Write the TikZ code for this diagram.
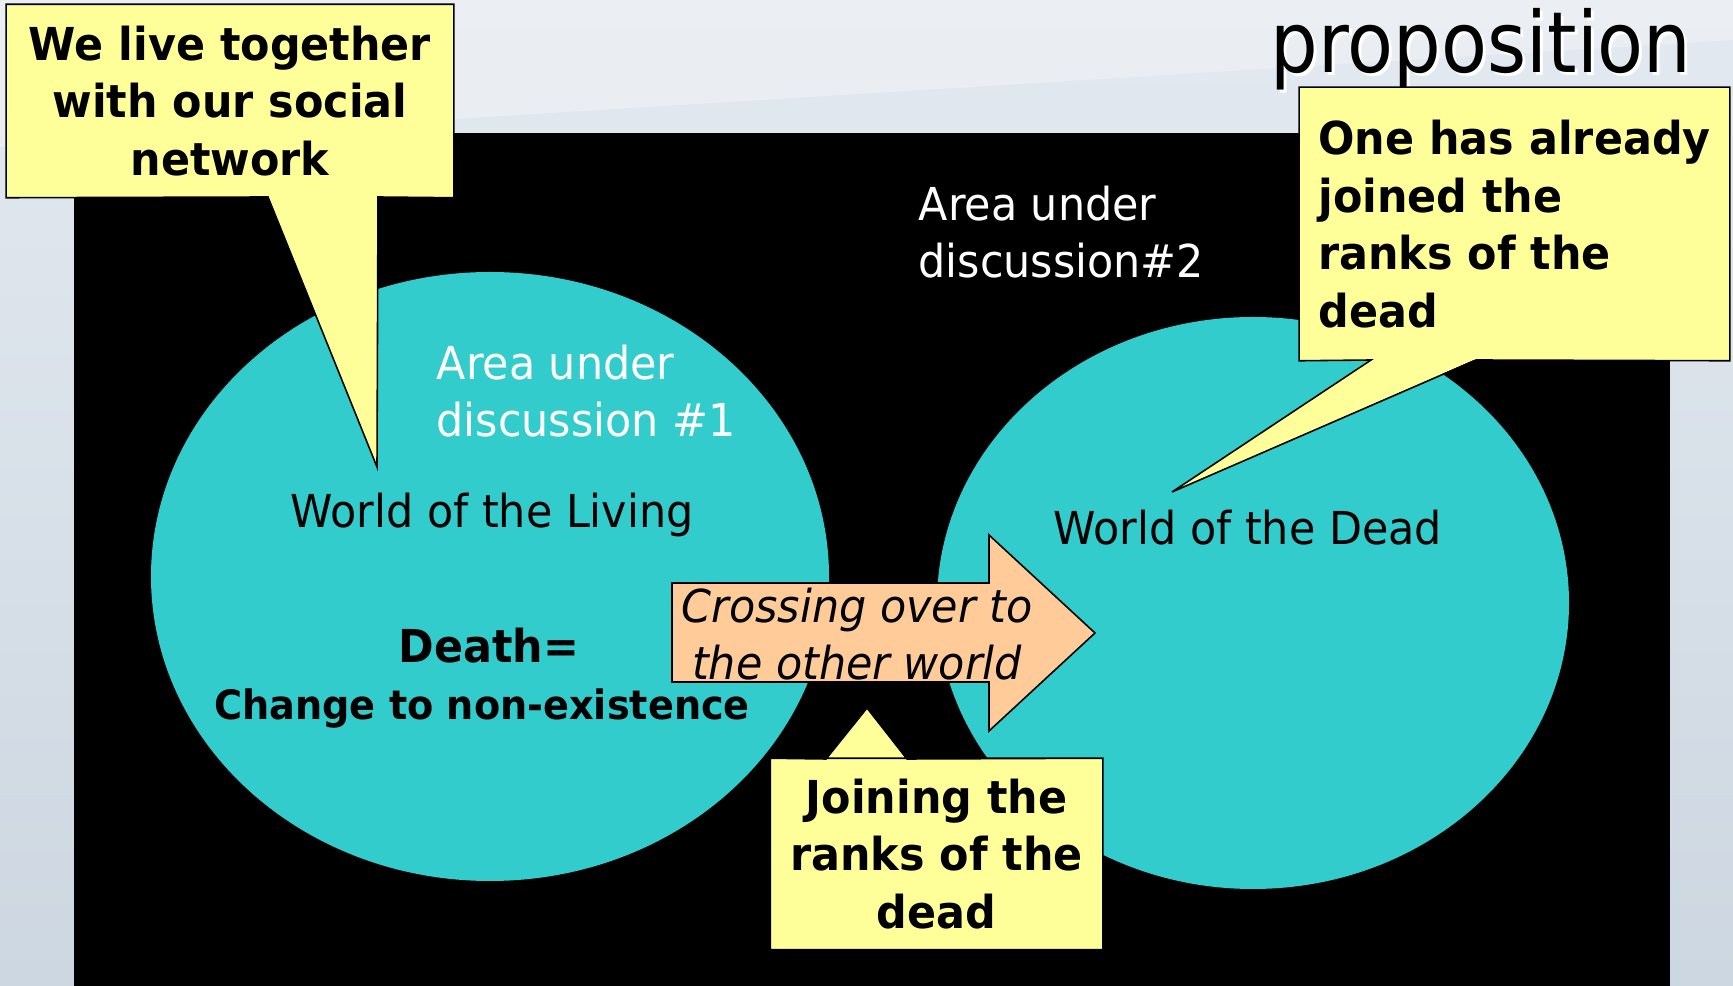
\documentclass[tikz,border=0pt]{standalone}
\usepackage{fontspec}
\newfontfamily\slidefont[FakeStretch=0.945]{DejaVu Sans}
\newfontfamily\titlefont[FakeStretch=0.89]{DejaVu Sans}
\definecolor{calloutyellow}{HTML}{FFFF99}
\definecolor{worldcyan}{HTML}{33CCCC}
\definecolor{arrowpeach}{HTML}{FFCC99}
\definecolor{slidetop}{HTML}{E3E9F0}
\definecolor{slidebottom}{HTML}{CDD7E1}

\begin{document}
\begin{tikzpicture}[x=0.01cm, y=-0.01cm,
  every node/.style={inner sep=0pt, font=\slidefont\fontsize{12.9}{16.4}\selectfont},
  world/.style={fill=worldcyan},
  callout/.style={fill=calloutyellow, font=\slidefont\bfseries\fontsize{12.9}{16.4}\selectfont},
  edge/.style={draw=black, line width=0.45pt, line join=miter}]
\useasboundingbox (0,0) rectangle (1733,986);
\shade[top color=slidetop, bottom color=slidebottom] (0,0) rectangle (1733,986);
\fill[white, opacity=0.3] (0,0) -- (1733,0) -- (1733,40) -- (0,147) -- cycle;
\fill[black] (74,133) rectangle (1670,986);
\fill[world] (490,576.5) ellipse [x radius=339, y radius=304.5];
\fill[world] (1253,603) ellipse [x radius=316, y radius=286];
\node[text=white, anchor=base west, align=left] (areaone) at (436,437) {Area under\\discussion \#1};
\node[anchor=base west] (living) at (290,528) {World of the Living};
\node[font=\slidefont\bfseries\fontsize{12.9}{16.4}\selectfont, anchor=base] (death) at (489,663) {Death=};
\node[font=\slidefont\bfseries\fontsize{11.5}{14}\selectfont, anchor=base] (change) at (482,720) {Change to non-existence};
\node[text=white, anchor=base west, align=left] (areatwo) at (918,278) {Area under\\discussion\#2};
\node[anchor=base west] (dead) at (1053,545) {World of the Dead};
\node[font=\titlefont\fontsize{24}{28}\selectfont, text=white, anchor=base east] (titleshadow) at (1695,76) {proposition};
\node[font=\titlefont\fontsize{24}{28}\selectfont, anchor=base east] (title) at (1692,73) {proposition};
\filldraw[fill=arrowpeach, edge] (672,583) -- (989,583) -- (989,535) -- (1095,633) -- (989,731) -- (989,682) -- (672,682) -- cycle;
\node[font=\slidefont\itshape\fontsize{12.9}{16.4}\selectfont, align=center, anchor=base] (crossing) at (857,680) {Crossing over to\\the other world};
\coordinate (livetip) at (377,467);
\coordinate (deadtip) at (1172,492);
\coordinate (jointip) at (867,708);
\fill[calloutyellow] (268,196) -- (livetip) -- (378,196) -- cycle;
\node[callout, minimum width=4.46cm, minimum height=1.92cm, align=center] (livebox) at (230,101) {We live together\\with our social\\network};
\draw[edge] (livebox.north west) -- (livebox.north east) -- (livebox.south east) -- (378,197) -- (livetip) -- (268,197) -- (livebox.south west) -- cycle;
\fill[calloutyellow] (1371,359) -- (deadtip) -- (1476,359) -- cycle;
\node[callout, minimum width=4.29cm, minimum height=2.72cm, align=left] (deadbox) at (1514.5,224) {One has already\\joined the\\ranks of the\\dead};
\draw[edge] (deadbox.north west) -- (deadbox.north east) -- (deadbox.south east) -- (1476,360) -- (deadtip) -- (1371,360) -- (deadbox.south west) -- cycle;
\fill[calloutyellow] (826,760) -- (jointip) -- (907,760) -- cycle;
\node[callout, minimum width=3.31cm, minimum height=1.90cm, align=center] (joinbox) at (936.5,854) {Joining the\\ranks of the\\dead};
\draw[edge] (joinbox.north west) -- (joinbox.north east) -- (joinbox.south east) -- (joinbox.south west) -- (joinbox.north west) -- (826,759) -- (jointip) -- (907,759) -- (joinbox.north east);
\end{tikzpicture}
\end{document}
